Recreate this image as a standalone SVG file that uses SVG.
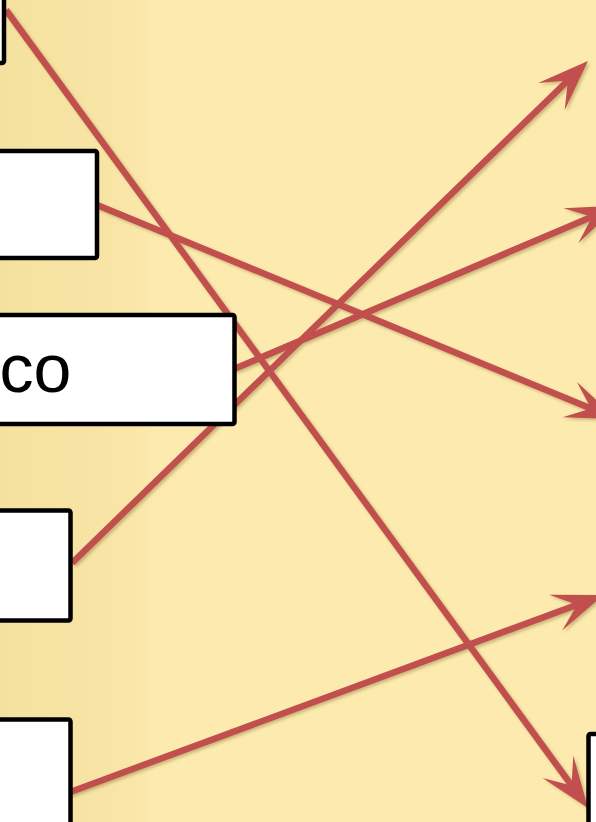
<svg xmlns="http://www.w3.org/2000/svg" width="596" height="822" viewBox="0 0 596 822">
  <defs>
    <linearGradient id="bandGrad" x1="0" y1="0" x2="1" y2="0">
      <stop offset="0" stop-color="#F5E19F" stop-opacity="1"/>
      <stop offset="0.6" stop-color="#F7E4A4" stop-opacity="0.9"/>
      <stop offset="0.9" stop-color="#F8E5A6" stop-opacity="0.6"/>
      <stop offset="1" stop-color="#FDEAAE" stop-opacity="0"/>
    </linearGradient>
    <filter id="shadow" x="-20%" y="-20%" width="140%" height="140%">
      <feDropShadow dx="2" dy="2" stdDeviation="1.5" flood-color="#6B5A20" flood-opacity="0.35"/>
    </filter>
    <marker id="head" markerUnits="userSpaceOnUse" markerWidth="60" markerHeight="60" viewBox="-25 -25 60 50" refX="0" refY="0" orient="auto" overflow="visible">
      <path d="M28,0 L-23,-19 L0,0 L-23,19 Z" fill="#C0504D"/>
    </marker>
    <style>
      .conn { stroke: #C0504D; stroke-width: 6.5; fill: none; marker-end: url(#head); }
      .box { fill: #FFFFFF; stroke: #000000; stroke-width: 4.5; }
      .label { font-family: "Liberation Sans", Arial, sans-serif; font-size: 68px; fill: #000000; }
    </style>
  </defs>

  <!-- background -->
  <rect x="0" y="0" width="596" height="822" fill="#FDEAAE"/>
  <rect x="0" y="0" width="160" height="822" fill="url(#bandGrad)"/>

  <!-- connectors -->
  <g id="connectors" filter="url(#shadow)">
    <line class="conn" x1="6" y1="10" x2="571.5" y2="785.4"/>
    <line class="conn" x1="97" y1="205" x2="591" y2="408.4"/>
    <line class="conn" x1="234" y1="369" x2="592" y2="216.7"/>
    <line class="conn" x1="72" y1="563" x2="567.9" y2="80.5"/>
    <line class="conn" x1="65" y1="794" x2="577.1" y2="604.7"/>
  </g>

  <!-- nodes -->
  <g id="node1"><rect class="box" x="-20" y="-20" width="24" height="83" rx="2"/></g>
  <g id="node2"><rect class="box" x="-20" y="151" width="117" height="107" rx="2"/></g>
  <g id="node3">
    <rect class="box" x="-20" y="315" width="254.5" height="109" rx="2"/>
    <text class="label" x="-0.5" y="392">co</text>
  </g>
  <g id="node4"><rect class="box" x="-20" y="510.5" width="90.5" height="110" rx="2"/></g>
  <g id="node5"><rect class="box" x="-20" y="719.5" width="90.5" height="130" rx="2"/></g>
  <g id="node6"><rect class="box" x="588.5" y="734" width="40" height="120" rx="2"/></g>
</svg>
